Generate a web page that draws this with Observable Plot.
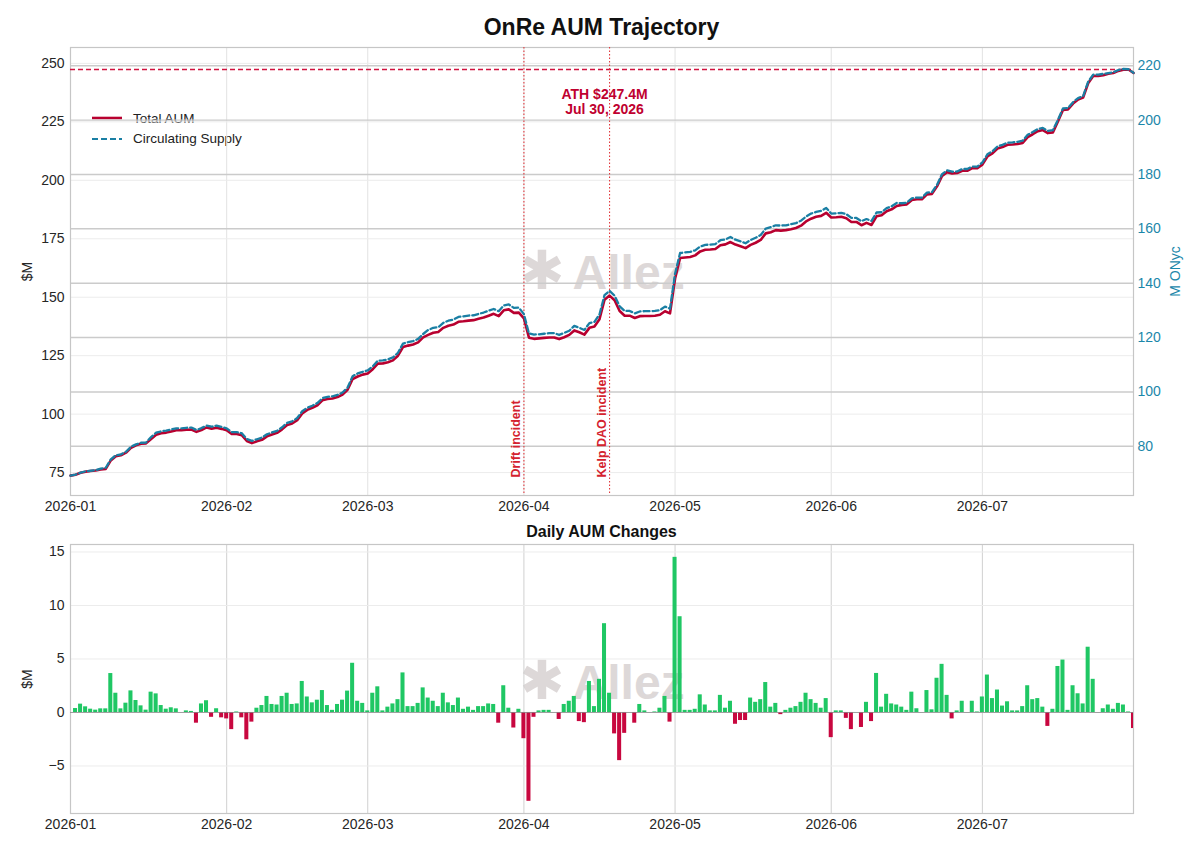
<!DOCTYPE html>
<html><head><meta charset="utf-8">
<script src="https://cdn.jsdelivr.net/npm/d3@7"></script>
<script src="https://cdn.jsdelivr.net/npm/@observablehq/plot@0.6"></script>
<style>
body{margin:0;background:#fff;font-family:"Liberation Sans",Arial,sans-serif;}
#wrap{position:relative;width:1200px;height:849px;overflow:hidden;background:#fff;}
.layer{position:absolute;}
#title{left:70px;width:1063px;top:13px;line-height:28px;text-align:center;font-weight:bold;font-size:23px;color:#111;}
#sub{left:70px;width:1063px;top:523px;line-height:18px;text-align:center;font-weight:bold;font-size:16px;color:#111;}
.wm{position:absolute;color:#ddd8d8;white-space:nowrap;transform:translate(-50%,-50%);font-weight:bold;font-size:48px;z-index:0;}
.wm span{font-family:"DejaVu Sans";font-size:54px;margin-right:8px;}
#legend{position:absolute;left:92px;top:108px;z-index:0;font-size:13.5px;color:#222;}
#legend div{height:20.6px;display:flex;align-items:center;}
#legend svg{margin-right:11px;}
#topPlot{top:40px;left:0;z-index:1;}
#botPlot{top:540px;left:0;z-index:1;}
</style></head><body>
<div id="wrap">
  <div id="title" class="layer">OnRe AUM Trajectory</div>
  <div class="wm" style="left:602px;top:270px;"><span>✱</span>Allez</div>
  <div class="wm" style="left:602px;top:680px;"><span>✱</span>Allez</div>
  <div id="legend">
    <div><svg width="30" height="6"><line x1="0" x2="30" y1="3" y2="3" stroke="#b8002f" stroke-width="2.6"/></svg>Total AUM</div>
    <div><svg width="30" height="6"><line x1="0" x2="30" y1="3" y2="3" stroke="#1a7fa4" stroke-width="2.2" stroke-dasharray="6,3"/></svg>Circulating Supply</div>
  </div>
  <div id="topPlot" class="layer"></div>
  <div id="sub" class="layer">Daily AUM Changes</div>
  <div id="botPlot" class="layer"></div>
</div>
<script>
// ---------- data ----------
const startDate = [2026, 0, 1]; // first day (UTC) of the daily series
const totalAUM = [
73.7,74.1,74.9,75.4,75.7,75.9,76.3,76.6,80.2,82.0,
82.4,83.5,85.6,86.7,87.3,87.5,89.4,91.2,91.8,92.1,
92.6,93.1,93.1,93.3,93.4,92.4,93.2,94.3,93.8,94.2,
93.7,93.1,91.5,91.5,91.0,88.5,87.6,88.4,89.0,90.5,
91.3,92.0,93.5,95.3,96.0,97.4,100.3,101.8,102.7,103.8,
105.9,106.5,106.7,107.3,108.4,110.4,115.0,116.1,116.9,117.4,
119.2,121.6,121.7,122.2,123.0,125.0,128.7,129.3,129.8,130.7,
132.8,133.9,134.8,135.1,136.9,137.8,138.3,139.5,139.7,140.0,
140.2,140.8,141.3,142.1,142.9,141.9,144.4,144.8,143.3,143.4,
141.0,132.7,132.2,132.4,132.6,132.8,132.8,132.1,132.9,133.9,
135.8,135.0,134.0,136.9,137.5,140.6,148.9,150.7,148.7,144.1,
142.1,142.1,141.1,141.9,142.0,142.0,142.1,142.5,144.0,143.1,
157.9,166.8,167.0,167.2,167.9,169.6,170.3,170.4,170.6,172.2,
172.6,173.6,172.5,171.8,171.0,172.4,173.3,174.5,177.3,177.8,
178.7,178.5,178.7,179.1,179.6,180.6,182.4,183.6,184.4,184.8,
186.1,184.1,184.2,184.4,183.8,182.2,182.2,180.8,181.8,180.9,
184.6,185.1,186.8,187.6,189.0,189.5,189.7,191.6,191.9,191.9,
194.0,194.2,197.4,201.9,203.5,202.9,203.1,204.1,204.1,205.2,
205.2,206.7,210.2,211.5,213.6,214.2,215.2,215.3,215.5,216.0,
218.5,219.7,221.0,221.5,220.2,220.5,225.2,230.1,230.3,232.8,
234.6,235.4,241.5,244.6,244.6,244.9,245.6,245.9,246.8,247.3,
247.4,245.9];
const circulatingSupply = [
69.2,69.6,70.3,70.8,71.0,71.2,71.8,72.1,75.2,76.7,
77.0,78.0,79.8,80.7,81.3,81.4,83.4,85.0,85.5,85.8,
86.2,86.6,86.6,86.8,86.9,86.0,86.7,87.6,87.2,87.6,
87.1,86.6,85.2,85.2,84.8,82.7,82.0,82.6,83.2,84.4,
85.1,85.7,87.0,88.6,89.2,90.4,92.9,94.2,94.9,95.9,
97.7,98.2,98.4,98.9,99.8,101.6,105.8,106.8,107.4,107.9,
109.4,111.5,111.6,112.0,112.7,114.4,117.8,118.3,118.7,119.5,
121.3,122.8,123.6,123.8,125.4,126.2,126.6,127.6,127.8,128.1,
128.2,128.7,129.2,129.9,130.5,129.7,131.8,132.2,130.9,131.0,
128.6,121.5,121.1,121.2,121.4,121.6,121.6,121.0,121.7,122.5,
124.3,123.6,122.8,125.3,125.8,128.5,135.6,137.2,135.4,131.5,
129.8,129.8,128.9,129.6,129.7,129.7,129.8,130.1,131.4,130.6,
143.5,151.1,151.3,151.5,152.1,153.5,154.1,154.2,154.4,155.8,
156.1,157.0,156.0,155.4,154.7,155.9,156.7,157.7,160.1,160.6,
161.3,161.2,161.3,161.7,162.1,163.0,164.5,165.6,166.2,166.6,
167.7,165.6,165.7,165.9,165.4,164.0,164.0,162.8,163.6,162.9,
166.0,166.1,167.6,168.3,169.5,169.4,169.6,171.2,171.5,171.5,
173.3,173.5,176.2,180.1,181.5,181.0,181.1,182.0,182.0,182.9,
182.9,184.4,187.4,188.5,190.3,190.9,191.7,191.8,192.0,192.4,
194.6,195.6,196.7,197.1,196.0,196.3,200.1,204.3,204.4,206.6,
208.1,208.8,214.1,216.7,216.7,217.0,217.3,217.6,218.4,218.8,
218.7,217.4];
// daily changes, starting on the second day of the series
const dailyChange = [
0.37,0.78,0.53,0.31,0.22,0.34,0.34,3.64,1.8,0.34,
0.87,2.02,1.12,0.62,0.22,1.9,1.74,0.65,0.31,0.44,
0.34,0,0.15,0.1,-1.0,0.8,1.1,-0.45,0.35,-0.5,
-0.6,-1.6,0.05,-0.5,-2.55,-0.9,0.4,0.65,1.5,0.75,
0.7,1.5,1.8,0.75,0.8,2.9,1.45,0.9,1.15,2.05,
0.65,0.2,0.75,1.15,2.0,4.6,1.05,0.85,0.15,1.8,
2.4,0.15,0.5,0.8,1.2,3.7,0.55,0.55,0.85,2.3,
1.35,1.05,0.55,1.8,0.9,0.65,1.35,0.3,0.5,0.2,
0.55,0.55,0.8,0.75,-1.0,2.5,0.4,-1.45,0.3,-2.45,
-8.3,-0.45,0.15,0.2,0.2,0,-0.65,0.75,1.05,1.5,
-0.85,-0.95,2.9,0.55,3.1,8.3,1.8,-2.0,-4.5,-1.95,
0,-1.0,0.75,0.15,0,0.05,0.4,1.5,-0.9,14.5,
8.95,0.2,0.2,0.3,1.65,0.7,0.15,0.15,1.6,0.4,
1.05,-1.1,-0.75,-0.75,1.35,0.95,1.2,2.8,0.5,0.85,
-0.2,0.2,0.4,0.55,0.95,1.8,1.2,0.85,0.4,1.3,
-2.35,0.15,0.15,-0.55,-1.6,0,-1.4,0.95,-0.85,3.65,
0.5,1.7,0.8,0.7,0.5,0.2,1.9,0.35,0,2.05,
0.25,3.2,4.5,1.6,-0.6,0.15,1.05,0,1.05,0.05,
1.45,3.5,1.3,2.1,0.6,1.0,0.15,0.15,0.55,2.5,
1.2,1.3,0.5,-1.3,0.3,4.3,4.9,0.2,2.5,1.75,
0.8,6.1,3.1,0,0.35,0.7,0.3,0.85,0.7,0.05,
-1.5];
const monthTickDates = ["2026-01-01","2026-02-01","2026-03-01","2026-04-01","2026-05-01","2026-06-01","2026-07-01"];
const leftTicks = [75,100,125,150,175,200,225,250];
const rightTicks = [80,100,120,140,160,180,200,220];
const changeTicks = [-5,0,5,10,15];
const leftDomain = [65.2,256.8];
const rightDomain = [61.9,226.7];
const changeDomain = [-9.44,15.7];
const xDomainDates = ["2026-01-01","2026-07-31"];
const athValue = 247.4;
const athLabel = "ATH $247.4M\nJul 30, 2026";
const athLabelDate = "2026-04-17";
const athLabelY = 233.8;
const incidentDates = ["2026-04-01","2026-04-18"];
const incidentLabels = ["Drift incident","Kelp DAO incident"];
const incidentLabelY = 72.9;

// ---------- build ----------
const DAY = 864e5;
const t0 = Date.UTC(...startDate);
const dayDate = i => new Date(t0 + i*DAY);
const parse = s => new Date(s + "T00:00:00Z");
const aumRows = totalAUM.map((v,i)=>({date: dayDate(i), aum: v, supply: circulatingSupply[i]}));
const changeRows = dailyChange.map((v,i)=>({date: dayDate(i+1), change: v, sign: v >= 0 ? "up" : "down"}));
const months = monthTickDates.map(parse);
const xDomain = xDomainDates.map(parse);
const incidents = incidentDates.map((d,i)=>({date: parse(d), label: incidentLabels[i]}));
const toLeft = d3.scaleLinear(rightDomain, leftDomain);
const fmtMonth = d3.utcFormat("%Y-%m");
const FONT = '"Liberation Sans", Arial, sans-serif';
const RED = "#b8002f", TEAL = "#1a7fa4", TEAL_TXT = "#1b87aa";

const topChart = Plot.plot({
  width:1200, height:480, marginLeft:70, marginRight:67, marginTop:7, marginBottom:25,
  style:{background:"transparent", fontFamily:FONT, fontSize:"14px", color:"#262626", overflow:"visible"},
  x:{type:"utc", domain:xDomain},
  y:{domain:leftDomain},
  marks:[
    Plot.gridX(months,{stroke:"#e2e2e2", strokeOpacity:1}),
    Plot.gridY(leftTicks,{stroke:"#ececec", strokeOpacity:1}),
    Plot.gridY(rightTicks.map(toLeft),{stroke:"#cbcbcb", strokeOpacity:1, strokeWidth:1.4}),
    Plot.frame({stroke:"#c6c6c6", strokeWidth:1.2}),
    Plot.ruleY([athValue],{stroke:"#d0123e", strokeDasharray:"5,3", strokeWidth:1.3}),
    Plot.ruleX(incidents,{x:"date", stroke:"#e23a3f", strokeDasharray:"1.5,2", strokeWidth:1.1}),
    Plot.line(aumRows,{x:"date", y:"aum", stroke:RED, strokeWidth:2.6}),
    Plot.line(aumRows,{x:"date", y:d=>toLeft(d.supply), stroke:TEAL, strokeWidth:2.3, strokeDasharray:"6,3"}),
    Plot.text(incidents,{x:"date", y:()=>incidentLabelY, text:"label", rotate:-90, textAnchor:"start", dx:-8, fill:"#d4222e", fontWeight:"bold", fontSize:12.5}),
    Plot.text([{date:parse(athLabelDate), y:athLabelY, label:athLabel}],{x:"date", y:"y", text:"label", fill:"#c0002f", fontWeight:"bold", fontSize:14, lineHeight:1.08}),
    Plot.axisX(months,{tickFormat:fmtMonth, tickSize:0, tickPadding:6, label:null, fontSize:14}),
    Plot.axisY(leftTicks,{tickSize:0, tickPadding:6, label:"$M", labelAnchor:"center", labelArrow:"none", labelOffset:48, fontSize:14}),
    Plot.axisY(rightTicks.map(toLeft),{anchor:"right", tickFormat:d=>String(Math.round(toLeft.invert(d))), tickSize:0, tickPadding:4, fill:TEAL_TXT, label:"M ONyc", labelAnchor:"center", labelArrow:"none", labelOffset:46, fontSize:14})
  ]
});
document.getElementById("topPlot").appendChild(topChart);

const botChart = Plot.plot({
  width:1200, height:300, marginLeft:70, marginRight:67, marginTop:4, marginBottom:27,
  style:{background:"transparent", fontFamily:FONT, fontSize:"14px", color:"#262626"},
  x:{type:"utc", domain:xDomain},
  y:{domain:changeDomain},
  color:{domain:["up","down"], range:["#1fc764","#c8073f"]},
  marks:[
    Plot.gridX(months,{stroke:"#d0d0d0", strokeOpacity:1}),
    Plot.gridY(changeTicks,{stroke:"#ececec", strokeOpacity:1}),
    Plot.frame({stroke:"#c6c6c6", strokeWidth:1.2}),
    Plot.rectY(changeRows,{x1:d=>new Date(+d.date-0.4*DAY), x2:d=>new Date(+d.date+0.4*DAY), y:"change", fill:"sign", clip:true}),
    Plot.ruleY([0],{stroke:"#8a8a8a", strokeWidth:0.8}),
    Plot.axisX(months,{tickFormat:fmtMonth, tickSize:0, tickPadding:6, label:null, fontSize:14}),
    Plot.axisY(changeTicks,{tickSize:0, tickPadding:6, label:"$M", labelAnchor:"center", labelArrow:"none", labelOffset:48, fontSize:14})
  ]
});
document.getElementById("botPlot").appendChild(botChart);
</script>
</body></html>
